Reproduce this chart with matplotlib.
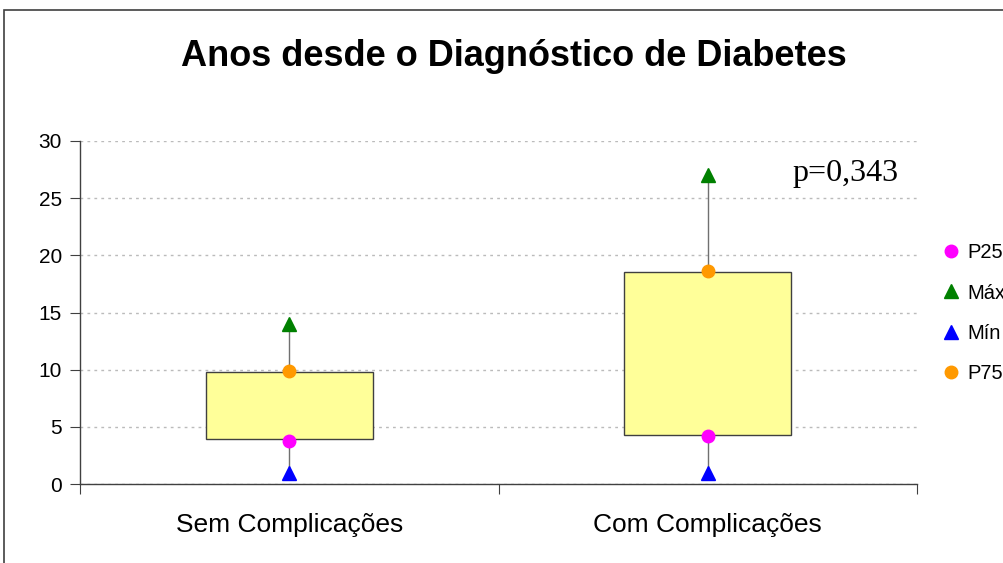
import matplotlib
matplotlib.use("Agg")
import matplotlib.pyplot as plt
from matplotlib.patches import Rectangle
import numpy as np

# dados
categorias = ["Sem Complicações", "Com Complicações"]
p25 = [3.8, 4.2]
p75 = [9.9, 18.6]
minimo = [1, 1]
maximo = [14, 27]
box_base = [3.9, 4.3]
box_topo = [9.8, 18.5]
p_valor = "p=0,343"

plt.rcParams['font.family'] = ['Liberation Sans', 'DejaVu Sans']

fig = plt.figure(figsize=(10.04, 5.63), dpi=100)
ax = fig.add_axes([80/1004, 1 - 484/563, (917 - 80)/1004, (484 - 141)/563])

# moldura do grafico (estilo Excel)
fig.patches.append(Rectangle((4/1004, -0.1), 1.2, 1.1 - 10/563,
                             transform=fig.transFigure, fill=False,
                             edgecolor='#404040', linewidth=1.2, clip_on=False))

x = np.arange(len(categorias)) + 0.5

# caixas
ax.bar(x, np.array(box_topo) - np.array(box_base), bottom=box_base, width=0.4,
       color='#FFFF99', edgecolor='#404040', linewidth=1.0, zorder=3)

# bigodes
for xi, lo, hi in zip(x, minimo, maximo):
    ax.plot([xi, xi], [lo, hi], color='#707070', linewidth=1.0, zorder=2)

ax.plot(x, p25, 'o', color='#FF00FF', markersize=9, label='P25', zorder=5, linestyle='none')
ax.plot(x, maximo, '^', color='#008000', markersize=10, label='Máx', zorder=5, linestyle='none')
ax.plot(x, minimo, '^', color='#0000FF', markersize=10, label='Mín', zorder=5, linestyle='none')
ax.plot(x, p75, 'o', color='#FF9900', markersize=9, label='P75', zorder=5, linestyle='none')

ax.set_xlim(0, 2)
ax.set_ylim(0, 30)
ax.set_yticks(range(0, 31, 5))
ax.set_xticks([0, 1, 2])
ax.set_xticklabels([])
ax.set_xticks(x, minor=True)
ax.set_xticklabels(categorias, minor=True, fontsize=19)
ax.tick_params(axis='x', which='minor', length=0, pad=21)
ax.tick_params(axis='x', which='major', length=7, direction='out', color='#404040')
ax.tick_params(axis='y', length=7, direction='out', color='#404040', labelsize=15, pad=6)

ax.yaxis.grid(True, linestyle=(0, (2, 3)), color='#BBBBBB', linewidth=1.0)
ax.set_axisbelow(True)
for s in ['top', 'right']:
    ax.spines[s].set_visible(False)
for s in ['left', 'bottom']:
    ax.spines[s].set_color('#404040')
    ax.spines[s].set_linewidth(1.0)

ax.text(1.957, 26.5, p_valor, fontsize=23, family='Liberation Serif', ha='right', va='baseline')

fig.text(514/1004, 1 - 57/563, "Anos desde o Diagnóstico de Diabetes",
         fontsize=26, fontweight='bold', ha='center', va='center')

leg = ax.legend(loc='upper left', bbox_to_anchor=(1.024, 0.725), frameon=False,
                fontsize=14.5, handlelength=0.6, handletextpad=0.5, labelspacing=1.05,
                borderaxespad=0)

fig.savefig("out.png", dpi=100)
